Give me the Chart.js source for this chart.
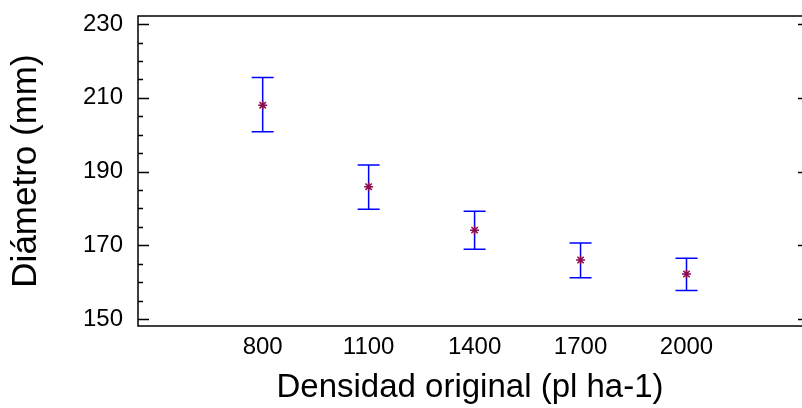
<!DOCTYPE html>
<html>
<head>
<meta charset="utf-8">
<script src="https://cdn.jsdelivr.net/npm/chart.js@4.4.1/dist/chart.umd.min.js"></script>
<style>
  html, body { margin: 0; padding: 0; background: #fff; overflow: hidden; }
</style>
</head>
<body>
<canvas id="diamChart" width="802" height="408"></canvas>
<script>
// densidad original (pl ha-1) vs diametro medio con intervalos
const densidades = [800, 1100, 1400, 1700, 2000]
const diametroMedia = [208.0, 185.9, 174.1, 166.0, 162.2]
const limiteSup = [215.5, 191.8, 179.2, 170.6, 166.5]
const limiteInf = [200.8, 179.8, 168.9, 161.2, 157.7]
const yTicks = [150, 170, 190, 210, 230]

const fontFam = "'Liberation Sans', Arial, sans-serif"

// barras de error + marco con marcas hacia adentro
const errorBars = {
  id: 'errorBars',
  beforeDatasetsDraw( chart ) {
    const { ctx, scales: { x, y } } = chart
    ctx.save()
    ctx.strokeStyle = '#0000ff'
    ctx.lineWidth = 1.5
    densidades.forEach( ( d, i ) => {
      const px = x.getPixelForValue( d )
      const top = y.getPixelForValue( limiteSup[ i ] )
      const bot = y.getPixelForValue( limiteInf[ i ] )
      ctx.beginPath()
      ctx.moveTo( px, top ); ctx.lineTo( px, bot )
      ctx.moveTo( px - 11, top ); ctx.lineTo( px + 11, top )
      ctx.moveTo( px - 11, bot ); ctx.lineTo( px + 11, bot )
      ctx.stroke()
    } )
    ctx.restore()
  },
  afterDraw( chart ) {
    const { ctx, chartArea: a, scales: { y } } = chart
    ctx.save()
    ctx.strokeStyle = '#000'
    ctx.lineWidth = 1.5
    // marco abierto a la derecha (el eje derecho queda fuera de la imagen)
    ctx.beginPath()
    ctx.moveTo( a.right, a.top ); ctx.lineTo( a.left, a.top )
    ctx.lineTo( a.left, a.bottom ); ctx.lineTo( a.right, a.bottom )
    for ( let v = 150; v <= 230; v += 5 ) {
      const py = Math.round( y.getPixelForValue( v ) ) + 0.5
      const major = v % 20 === 10
      ctx.moveTo( a.left, py ); ctx.lineTo( a.left + ( major ? 11 : 5 ), py )
      if ( major ) { ctx.moveTo( a.right, py ); ctx.lineTo( a.right - 4, py ) }
    }
    ctx.stroke()
    ctx.restore()
  }
}

new Chart( document.getElementById( 'diamChart' ), {
  type: 'scatter',
  data: {
    datasets: [ {
      data: densidades.map( ( d, i ) => ( { x: d, y: diametroMedia[ i ] } ) ),
      pointStyle: 'star',
      radius: 4.5,
      borderColor: '#8b0a50',
      backgroundColor: '#8b0a50',
      borderWidth: 1.5
    } ]
  },
  options: {
    responsive: false,
    animation: false,
    layout: { autoPadding: false, padding: { top: 16, right: 0, left: 0, bottom: 0 } },
    plugins: { legend: { display: false }, tooltip: { enabled: false } },
    scales: {
      x: {
        type: 'linear',
        min: 447,
        max: 2327,
        afterBuildTicks: ( s ) => { s.ticks = densidades.map( v => ( { value: v } ) ) },
        afterFit: ( s ) => { s.height = 82; s.paddingLeft = 0; s.paddingRight = 0 },
        grid: { display: false, drawTicks: false },
        border: { display: false },
        ticks: {
          color: '#000', padding: 7, maxRotation: 0,
          font: { family: fontFam, size: 24 },
          callback: ( v ) => String( v )
        },
        title: {
          display: true,
          text: 'Densidad original (pl ha-1)',
          color: '#000',
          padding: 0,
          font: { family: fontFam, size: 33 }
        }
      },
      y: {
        min: 148.1,
        max: 232.2,
        afterBuildTicks: ( s ) => { s.ticks = yTicks.map( v => ( { value: v } ) ) },
        afterFit: ( s ) => { s.width = 138; s.paddingTop = 0; s.paddingBottom = 0 },
        grid: { display: false, drawTicks: false },
        border: { display: false },
        ticks: { color: '#000', padding: 15, font: { family: fontFam, size: 24 } },
        title: {
          display: true,
          text: 'Diámetro (mm)',
          color: '#000',
          padding: { top: 5, bottom: 0 },
          font: { family: fontFam, size: 35 }
        }
      }
    }
  },
  plugins: [ errorBars ]
} )
</script>
</body>
</html>
